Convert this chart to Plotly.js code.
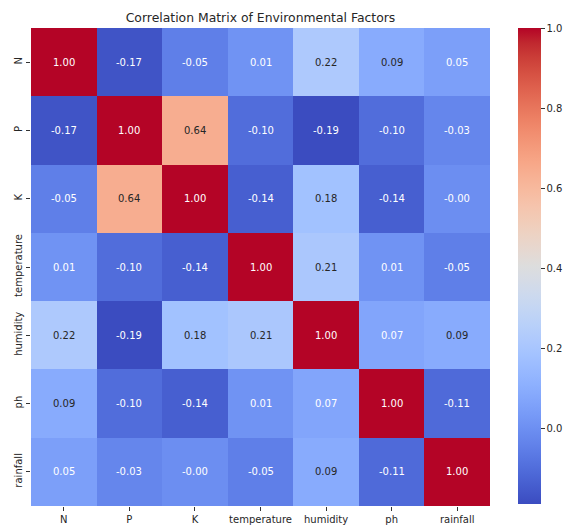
<!DOCTYPE html>
<html>
<head>
<meta charset="utf-8">
<script src="https://cdn.plot.ly/plotly-3.0.1.min.js"></script>
<style>html,body{margin:0;padding:0;background:#fff;}#chart{width:563px;height:525px;}</style>
</head>
<body>
<div id="chart"></div>
<script>
const labels = ["N", "P", "K", "temperature", "humidity", "ph", "rainfall"];
const rowN = [1.00, -0.17, -0.05, 0.01, 0.22, 0.09, 0.05];
const rowP = [-0.17, 1.00, 0.64, -0.10, -0.19, -0.10, -0.03];
const rowK = [-0.05, 0.64, 1.00, -0.14, 0.18, -0.14, -0.004];
const rowTemperature = [0.01, -0.10, -0.14, 1.00, 0.21, 0.01, -0.05];
const rowHumidity = [0.22, -0.19, 0.18, 0.21, 1.00, 0.07, 0.09];
const rowPh = [0.09, -0.10, -0.14, 0.01, 0.07, 1.00, -0.11];
const rowRainfall = [0.05, -0.03, -0.004, -0.05, 0.09, -0.11, 1.00];
const colorbarTicks = [0.0, 0.2, 0.4, 0.6, 0.8, 1.0];

const z = [rowN, rowP, rowK, rowTemperature, rowHumidity, rowPh, rowRainfall];

// matplotlib "coolwarm" (Moreland) table
const cw = [[59,76,192],[68,90,204],[77,104,215],[87,117,225],[98,130,234],[108,142,241],[119,154,247],[130,165,251],[141,176,254],[152,185,255],[163,194,255],[174,201,253],[184,208,249],[194,213,244],[204,217,238],[213,219,230],[221,221,221],[229,216,209],[236,211,197],[241,204,184],[245,196,173],[247,187,160],[247,177,148],[247,166,135],[244,154,123],[241,141,111],[236,127,99],[229,112,88],[222,96,77],[213,80,66],[203,62,56],[192,40,47],[180,4,38]];
const colorscale = cw.map((c, i) => [i / (cw.length - 1), `rgb(${c[0]},${c[1]},${c[2]})`]);

let zmin = Infinity, zmax = -Infinity;
z.forEach(r => r.forEach(v => { zmin = Math.min(zmin, v); zmax = Math.max(zmax, v); }));

function colorAt(v) {
  let t = (v - zmin) / (zmax - zmin);
  t = Math.max(0, Math.min(1, t));
  const p = t * (cw.length - 1);
  const i = Math.min(Math.floor(p), cw.length - 2);
  const f = p - i;
  return cw[i].map((c, k) => c + (cw[i + 1][k] - c) * f);
}
function lum(rgb) {
  const l = rgb.map(c => { c = c / 255; return c <= 0.03928 ? c / 12.92 : Math.pow((c + 0.055) / 1.055, 2.4); });
  return 0.2126 * l[0] + 0.7152 * l[1] + 0.0722 * l[2];
}
function fmt(v) {
  let s = Math.abs(v).toFixed(2);
  return (v < 0 ? "-" : "") + s;
}

const annotations = [];
z.forEach((row, i) => row.forEach((v, j) => {
  const L = lum(colorAt(v));
  annotations.push({
    x: labels[j], y: labels[i], text: fmt(v), showarrow: false,
    font: {family: "DejaVu Sans", size: 10, color: L > 0.408 ? "rgb(38,38,38)" : "#ffffff"}
  });
}));

const trace = {
  type: "heatmap",
  z: z, x: labels, y: labels,
  zmin: zmin, zmax: zmax,
  colorscale: colorscale,
  hoverinfo: "skip",
  colorbar: {
    x: 1.061, xanchor: "left", xref: "paper",
    y: 1, yanchor: "top", len: 476, lenmode: "pixels",
    thickness: 23, thicknessmode: "pixels",
    outlinewidth: 0, xpad: 0, ypad: 0,
    tickvals: colorbarTicks, ticktext: colorbarTicks.map(v => v.toFixed(1)),
    ticks: "outside", ticklen: 4, tickcolor: "#333", tickwidth: 1,
    tickfont: {family: "DejaVu Sans", size: 10, color: "#262626"}
  }
};

const layout = {
  width: 563, height: 525,
  margin: {l: 31, r: 73, t: 28, b: 19, pad: 0, autoexpand: false},
  paper_bgcolor: "#fff", plot_bgcolor: "#fff",
  title: {text: "Correlation Matrix of Environmental Factors", xref: "paper", x: 0.5, xanchor: "center", y: 0.966, yanchor: "middle",
          font: {family: "DejaVu Sans", size: 12.4, color: "#262626"}},
  xaxis: {type: "category", ticks: "outside", ticklen: 4, tickcolor: "#333", showgrid: false, zeroline: false, showline: false,
          tickfont: {family: "DejaVu Sans", size: 10, color: "#262626"}, tickangle: 0},
  yaxis: {type: "category", autorange: "reversed", ticks: "outside", ticklen: 4, tickcolor: "#333", showgrid: false, zeroline: false, showline: false,
          tickfont: {family: "DejaVu Sans", size: 10, color: "#262626"}, tickangle: -90},
  annotations: annotations,
  font: {family: "DejaVu Sans"}
};

Plotly.newPlot("chart", [trace], layout, {staticPlot: true, displayModeBar: false});
</script>
</body>
</html>
